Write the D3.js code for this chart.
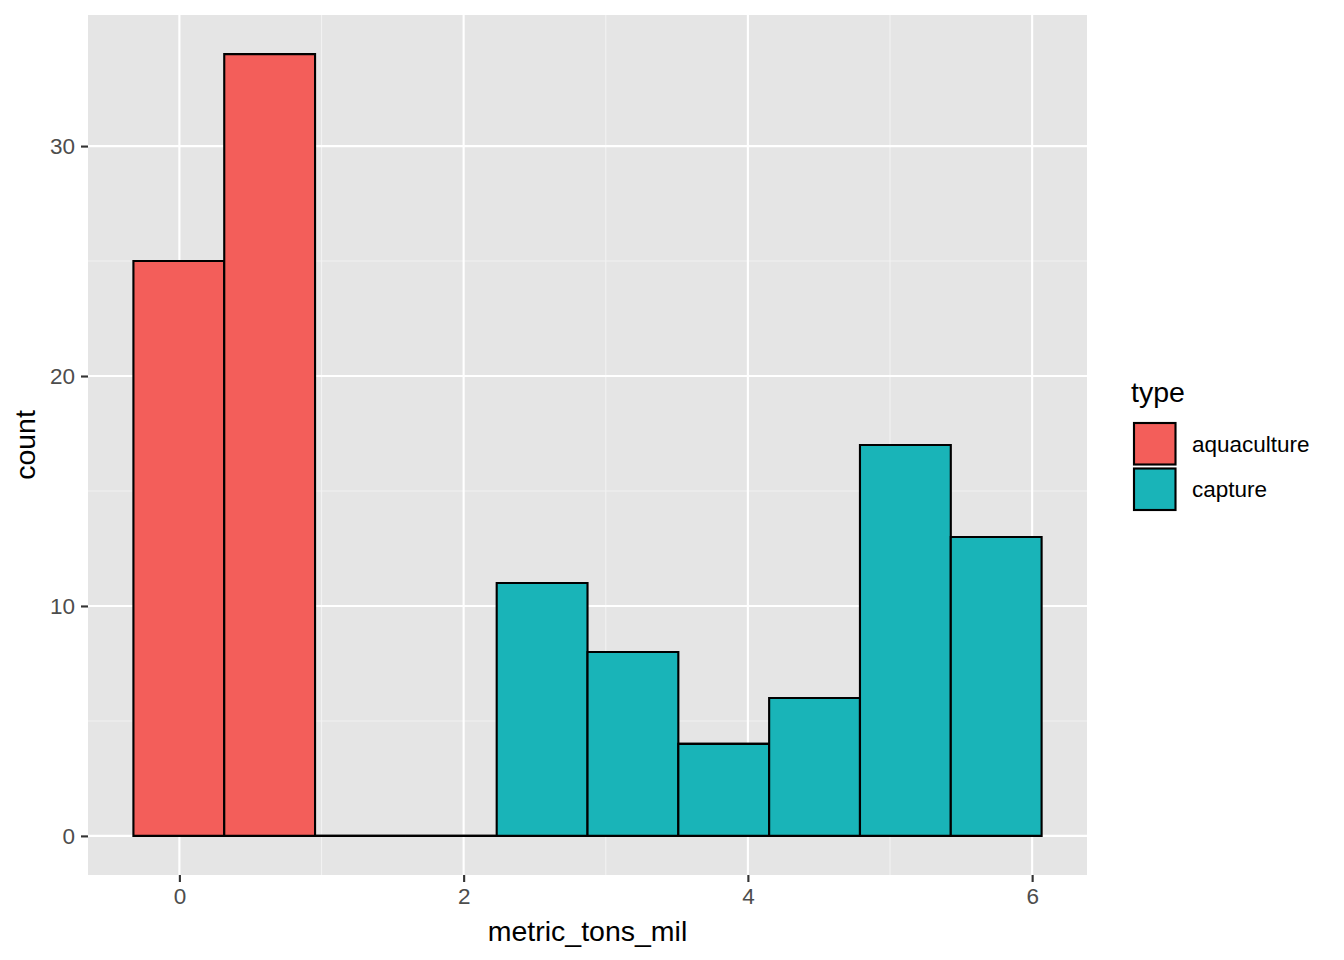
<!DOCTYPE html>
<html><head><meta charset="utf-8">
<script src="https://cdn.jsdelivr.net/npm/d3@7"></script>
<style>body{margin:0;background:#fff}svg{display:block;font-family:"Liberation Sans",Arial,sans-serif}</style>
</head><body><svg id="c" width="1344" height="960"></svg>
<script>
const binEdges = [-0.3234, 0.3156, 0.9546, 1.5936, 2.2326, 2.8716, 3.5106, 4.1496, 4.7886, 5.4276, 6.0666];
const aquaculture = [25, 34, 0, 0, 0, 0, 0, 0, 0, 0];
const capture = [0, 0, 0, 0, 11, 8, 4, 6, 17, 13];
const types = ["aquaculture", "capture"];
const fills = ["#F35E5A", "#19B4B8"];
const xTicks = [0, 2, 4, 6];
const yTicks = [0, 10, 20, 30];

const svg = d3.select("#c");
const P = {l: 88, r: 1087, t: 15, b: 875};
const x = d3.scaleLinear().domain([-0.643, 6.386]).range([P.l, P.r]);
const y = d3.scaleLinear().domain([-1.7, 35.7]).range([P.b, P.t]);

svg.append("rect").attr("x", P.l).attr("y", P.t).attr("width", P.r - P.l).attr("height", P.b - P.t).attr("fill", "#E5E5E5");
const g = svg.append("g");
[1, 3, 5].forEach(v => g.append("line").attr("x1", x(v)).attr("x2", x(v)).attr("y1", P.t).attr("y2", P.b).attr("stroke", "#F2F2F2").attr("stroke-width", 1.07));
[5, 15, 25].forEach(v => g.append("line").attr("y1", y(v)).attr("y2", y(v)).attr("x1", P.l).attr("x2", P.r).attr("stroke", "#F2F2F2").attr("stroke-width", 1.07));
xTicks.forEach(v => g.append("line").attr("x1", x(v)).attr("x2", x(v)).attr("y1", P.t).attr("y2", P.b).attr("stroke", "#fff").attr("stroke-width", 2.13));
yTicks.forEach(v => g.append("line").attr("y1", y(v)).attr("y2", y(v)).attr("x1", P.l).attr("x2", P.r).attr("stroke", "#fff").attr("stroke-width", 2.13));

const series = [aquaculture, capture];
const bars = [];
for (let i = 0; i < 10; i++) {
  let base = 0;
  [1, 0].forEach(s => {
    const v = series[s][i];
    bars.push({s, x0: binEdges[i], x1: binEdges[i + 1], y0: base, y1: base + v});
    base += v;
  });
}
// zero-height bars first so they appear beneath
bars.sort((a, b) => (a.y1 - a.y0 === 0 ? 0 : 1) - (b.y1 - b.y0 === 0 ? 0 : 1));
svg.append("g").selectAll("path").data(bars).join("path")
  .attr("d", d => {
    const a = x(d.x0), b = x(d.x1), t = y(d.y1), u = y(d.y0);
    return t === u ? `M${a},${u}L${b},${u}` : `M${a},${u}L${a},${t}L${b},${t}L${b},${u}Z`;
  })
  .attr("fill", d => fills[d.s]).attr("stroke", "#000").attr("stroke-width", 2.13).attr("stroke-linejoin", "miter");

const xa = svg.append("g").attr("transform", `translate(0,${P.b})`)
  .call(d3.axisBottom(x).tickValues(xTicks).tickSize(7).tickPadding(6).tickFormat(d3.format("d")));
const ya = svg.append("g").attr("transform", `translate(${P.l},0)`)
  .call(d3.axisLeft(y).tickValues(yTicks).tickSize(7).tickPadding(6).tickFormat(d3.format("d")));
[xa, ya].forEach(a => {
  a.attr("font-size", null).attr("font-family", null);
  a.select(".domain").remove();
  a.selectAll(".tick line").attr("stroke", "#333").attr("stroke-width", 2.13);
  a.selectAll(".tick text").attr("fill", "#4D4D4D").style("font-size", "22.5px");
});

svg.append("text").attr("x", (P.l + P.r) / 2).attr("y", 941).attr("text-anchor", "middle").style("font-size", "28.5px").text("metric_tons_mil");
svg.append("text").attr("transform", `translate(35,${(P.t + P.b) / 2}) rotate(-90)`).attr("text-anchor", "middle").style("font-size", "28.5px").text("count");

const lg = svg.append("g");
lg.append("text").attr("x", 1131).attr("y", 402).style("font-size", "28.5px").text("type");
types.forEach((t, i) => {
  lg.append("rect").attr("x", 1134).attr("y", 423 + i * 45.5).attr("width", 41.5).attr("height", 41.5)
    .attr("fill", fills[i]).attr("stroke", "#000").attr("stroke-width", 2.13);
  lg.append("text").attr("x", 1192).attr("y", 444 + i * 45.5).attr("dy", "0.35em").style("font-size", "22.5px").text(t);
});
</script></body></html>
